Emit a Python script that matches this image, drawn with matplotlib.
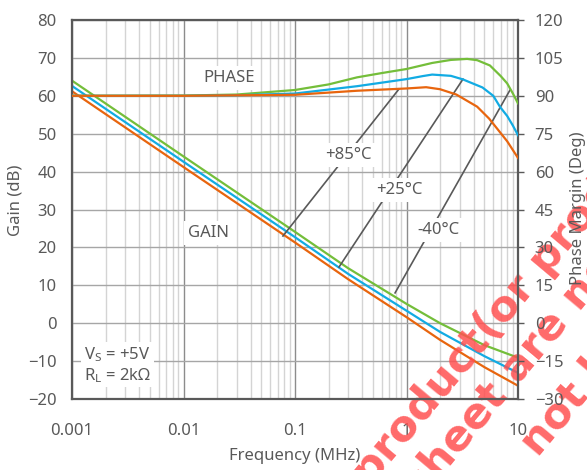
import matplotlib
matplotlib.use("Agg")
import matplotlib.pyplot as plt
from matplotlib.ticker import FixedLocator, NullFormatter

plt.rcParams['font.family'] = ['Noto Sans', 'DejaVu Sans']
plt.rcParams['mathtext.default'] = 'regular'

GRAY = '#595959'
ORANGE = '#E8650E'
BLUE = '#12ABE3'
GREEN = '#74BE3A'

# ===== ゲイン (dB) =====
gain_freq = [0.001, 0.01, 0.1, 0.3, 1, 2, 5, 10]
gain_m40 = [64.0, 44.0, 24.1, 14.5, 5.1, 0.0, -5.8, -9.1]
gain_p25 = [62.6, 42.6, 22.7, 13.0, 3.3, -2.3, -8.7, -13.1]
gain_p85 = [61.2, 41.2, 21.3, 11.6, 1.6, -4.4, -11.6, -16.5]

# ===== 位相余裕 (deg) =====
ph_freq_m40 = [0.001, 0.01, 0.03, 0.1, 0.2, 0.36, 0.6, 1, 1.7, 2.5, 3.5, 4.3, 5.6, 7, 8, 9, 10]
ph_m40 = [90, 90.1, 90.5, 92.3, 94.5, 97.3, 99.0, 100.6, 103, 104.2, 104.6, 104.1, 102, 97.8, 94.9, 90.9, 87]
ph_freq_p25 = [0.001, 0.01, 0.03, 0.1, 0.36, 1, 1.4, 1.7, 2.5, 3.2, 4.8, 6, 6.9, 8, 9, 10]
ph_p25 = [90, 90, 90.2, 90.9, 93.8, 96.6, 97.8, 98.4, 97.9, 96.5, 93.3, 90.0, 85.6, 82.0, 78.2, 74.4]
ph_freq_p85 = [0.001, 0.01, 0.1, 0.36, 1, 1.5, 2, 2.8, 4.3, 5.5, 6.5, 8, 10]
ph_p85 = [90, 90, 90.4, 92.0, 92.9, 93.4, 92.6, 90.5, 85.7, 81, 77, 72, 65.4]

# ===== 注記 (ラベル, 線の始点, 線の終点, ラベル位置) =====
temp_labels = ['+85°C', '+25°C', '-40°C']
line_start = [(0.078, 23.0), (0.248, 14.8), (0.79, 8.0)]
line_end = [(0.857, 61.8), (3.21, 64.4), (8.47, 61.5)]
label_pos = [(0.30, 44.4), (0.857, 35.1), (1.92, 24.6)]

x_ticks = [0.001, 0.01, 0.1, 1, 10]
x_ticklabels = ['0.001', '0.01', '0.1', '1', '10']
minor_ticks = [m * 10.0 ** e for e in range(-3, 1) for m in range(2, 10)]

# 透かし（図の端で切れている）
wm_texts = ['product(or product', 'sheet are not', 'not be']
wm_pos = [(370, 487), (422, 500), (538, 458)]

fig = plt.figure(figsize=(5.87, 4.70), dpi=100)
ax1 = fig.add_axes([72 / 587, 1 - 399 / 470, 446 / 587, 379 / 470])

ax1.set_xscale('log')
ax1.set_xlim(0.001, 10)
ax1.set_ylim(-20, 80)
ax1.set_yticks(range(-20, 81, 10))
ax1.xaxis.set_major_locator(FixedLocator(x_ticks))
ax1.set_xticklabels(x_ticklabels)
ax1.xaxis.set_minor_locator(FixedLocator(minor_ticks))
ax1.xaxis.set_minor_formatter(NullFormatter())

ax1.grid(True, axis='y', color='#a6a6a6', linewidth=1.0)
ax1.grid(True, axis='x', which='major', color='#8c8c8c', linewidth=1.0)
ax1.grid(True, axis='x', which='minor', color='#d4d4d4', linewidth=1.0)
ax1.set_axisbelow(True)

ax1.tick_params(axis='both', which='both', length=0, colors=GRAY, labelsize=12)
ax1.tick_params(axis='x', pad=17)
ax1.tick_params(axis='y', pad=11)
for s in ax1.spines.values():
    s.set_color(GRAY)
    s.set_linewidth(1.6)

# ゲイン
ax1.plot(gain_freq, gain_m40, color=GREEN, lw=1.6)
ax1.plot(gain_freq, gain_p25, color=BLUE, lw=1.6)
ax1.plot(gain_freq, gain_p85, color=ORANGE, lw=1.6)

# 注記線とラベル
for lab, st, en, pos in zip(temp_labels, line_start, line_end, label_pos):
    ax1.plot([st[0], en[0]], [st[1], en[1]], color=GRAY, lw=1.2, zorder=3)
    ax1.text(pos[0], pos[1], lab, color=GRAY, fontsize=12, ha='center', va='center',
             zorder=4, bbox=dict(facecolor='white', edgecolor='none', pad=3))

ax1.text(0.0256, 64.7, 'PHASE', color=GRAY, fontsize=12, ha='center', va='center',
         zorder=4, bbox=dict(facecolor='white', edgecolor='none', pad=3))
ax1.text(0.0169, 23.8, 'GAIN', color=GRAY, fontsize=12, ha='center', va='center',
         zorder=4, bbox=dict(facecolor='white', edgecolor='none', pad=3))
ax1.text(0.00128, -11.0, 'V$_S$ = +5V\nR$_L$ = 2kΩ', color=GRAY, fontsize=12,
         ha='left', va='center', linespacing=1.15, zorder=4,
         bbox=dict(facecolor='white', edgecolor='none', pad=2))

# 透かしは目盛ラベルの下、曲線の上
for t, (px, py) in zip(wm_texts, wm_pos):
    ax1.text(px / 587, 1 - py / 470, t, transform=fig.transFigure,
             color='#ff5050', alpha=0.85, fontsize=31, fontweight='bold',
             family='DejaVu Sans', rotation=50, rotation_mode='anchor',
             ha='left', va='baseline', zorder=2.4, clip_on=False)

# 位相（右軸）
ax2 = ax1.twinx()
ax2.set_ylim(-30, 120)
ax2.set_yticks(range(-30, 121, 15))
ax2.plot(ph_freq_m40, ph_m40, color=GREEN, lw=1.6)
ax2.plot(ph_freq_p25, ph_p25, color=BLUE, lw=1.6)
ax2.plot(ph_freq_p85, ph_p85, color=ORANGE, lw=1.6)
ax2.tick_params(axis='y', length=4, width=1, colors=GRAY, labelsize=12, pad=8)
for s in ax2.spines.values():
    s.set_visible(False)

# 軸ラベル
fig.text(295 / 587, 1 - 456 / 470, 'Frequency (MHz)', color=GRAY, fontsize=12,
         ha='center', va='center')
fig.text(15 / 587, 1 - 200 / 470, 'Gain (dB)', color=GRAY, fontsize=12,
         ha='center', va='center', rotation=90)
fig.text(578 / 587, 1 - 208 / 470, 'Phase Margin (Deg)', color=GRAY, fontsize=12,
         ha='center', va='center', rotation=90)

fig.savefig('out.png', dpi=100)
